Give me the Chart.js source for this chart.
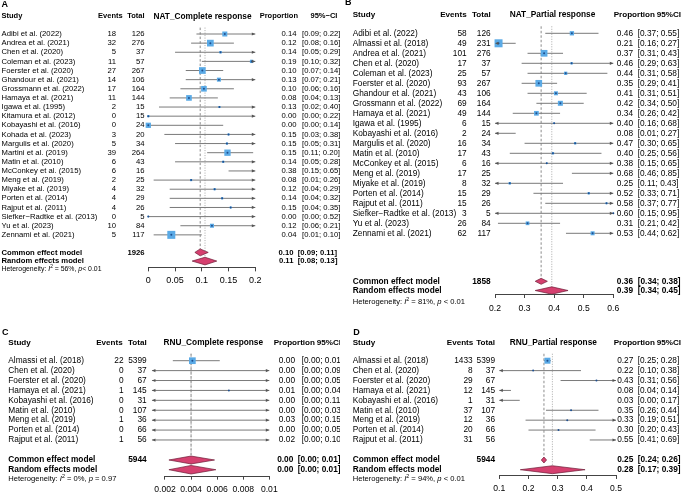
<!DOCTYPE html>
<html>
<head>
<meta charset="utf-8">
<script src="https://cdn.jsdelivr.net/npm/chart.js@4.4.1/dist/chart.umd.min.js"></script>
<style>
  html, body { margin: 0; padding: 0; background: #fff; }
  #wrap { position: relative; width: 685px; height: 494px; overflow: hidden; }
  .panel { position: absolute; }
</style>
</head>
<body>
<div id="wrap">
  <div class="panel" id="boxA"><canvas id="chartA"></canvas></div>
  <div class="panel" id="boxB"><canvas id="chartB"></canvas></div>
  <div class="panel" id="boxC"><canvas id="chartC"></canvas></div>
  <div class="panel" id="boxD"><canvas id="chartD"></canvas></div>
</div>
<script>
// ---- A: NAT complete response
const studiesA = ["Adibi et al. (2022)", "Andrea et al. (2021)", "Chen et al. (2020)", "Coleman et al. (2023)",
  "Foerster et al. (2020)", "Ghandour et al. (2021)", "Grossmann et al. (2022)", "Hamaya et al. (2021)",
  "Igawa et al. (1995)", "Kitamura et al. (2012)", "Kobayashi et al. (2016)", "Kohada et al. (2023)",
  "Margulis et al. (2020)", "Martini et al. (2019)", "Matin et al. (2010)", "McConkey et al. (2015)",
  "Meng et al. (2019)", "Miyake et al. (2019)", "Porten et al. (2014)", "Rajput et al. (2011)",
  "Siefker\u2212Radtke et al. (2013)", "Yu et al. (2023)", "Zennami et al. (2021)"];
const eventsA = [18, 32, 5, 11, 27, 14, 17, 11, 2, 0, 0, 3, 5, 39, 6, 6, 2, 4, 4, 4, 0, 10, 5];
const totalA = [126, 276, 37, 57, 267, 106, 164, 144, 15, 15, 24, 20, 34, 264, 43, 16, 25, 32, 29, 26, 5, 84, 117];
const estA = [0.143, 0.116, 0.135, 0.193, 0.101, 0.132, 0.104, 0.076, 0.133, 0, 0, 0.150, 0.147, 0.148, 0.140, 0.375, 0.080, 0.124, 0.138, 0.154, 0, 0.119, 0.043];
const loA = [0.09, 0.08, 0.05, 0.10, 0.07, 0.07, 0.06, 0.04, 0.02, 0, 0, 0.03, 0.05, 0.11, 0.05, 0.15, 0.01, 0.04, 0.04, 0.04, 0, 0.06, 0.01];
const hiA = [0.22, 0.16, 0.29, 0.32, 0.14, 0.21, 0.16, 0.13, 0.40, 0.22, 0.14, 0.38, 0.31, 0.196, 0.28, 0.65, 0.26, 0.29, 0.32, 0.35, 0.52, 0.21, 0.10];
const weightA = [6.2, 11.1, 1.5, 2.7, 11.1, 4.0, 7.9, 7.9, 1.0, 1.2, 6.9, 1.0, 1.2, 9.9, 1.2, 0.2, 1.2, 1.2, 1.2, 1.0, 0.5, 4.0, 15.8];
const commonA = [0.097, 0.087, 0.112];   // estimate, lower, upper
const randomA = [0.106, 0.082, 0.128];
const ticksA = [0, 0.05, 0.1, 0.15, 0.2];
const i2A = 56, hetPA = "< 0.01";

// ---- B: NAT partial response
const studiesB = ["Adibi et al. (2022)", "Almassi et al. (2018)", "Andrea et al. (2021)", "Chen et al. (2020)",
  "Coleman et al. (2023)", "Foerster et al. (2020)", "Ghandour et al. (2021)", "Grossmann et al. (2022)",
  "Hamaya et al. (2021)", "Igawa et al. (1995)", "Kobayashi et al. (2016)", "Margulis et al. (2020)",
  "Matin et al. (2010)", "McConkey et al. (2015)", "Meng et al. (2019)", "Miyake et al. (2019)",
  "Porten et al. (2014)", "Rajput et al. (2011)", "Siefker\u2212Radtke et al. (2013)", "Yu et al. (2023)",
  "Zennami et al. (2021)"];
const eventsB = [58, 49, 101, 17, 25, 93, 43, 69, 49, 6, 2, 16, 17, 6, 17, 8, 15, 15, 3, 26, 62];
const totalB = [126, 231, 276, 37, 57, 267, 106, 164, 144, 15, 24, 34, 43, 16, 25, 32, 29, 26, 5, 84, 117];
const estB = [0.460, 0.212, 0.366, 0.459, 0.439, 0.348, 0.406, 0.421, 0.340, 0.400, 0.083, 0.471, 0.396, 0.375, 0.680, 0.250, 0.517, 0.577, 0.600, 0.310, 0.530];
const loB = [0.37, 0.16, 0.31, 0.29, 0.31, 0.29, 0.31, 0.34, 0.26, 0.16, 0.01, 0.30, 0.25, 0.15, 0.46, 0.11, 0.33, 0.37, 0.15, 0.21, 0.44];
const hiB = [0.55, 0.27, 0.43, 0.63, 0.58, 0.41, 0.51, 0.50, 0.42, 0.68, 0.27, 0.65, 0.56, 0.65, 0.85, 0.43, 0.71, 0.77, 0.95, 0.42, 0.62];
const weightB = [5.8, 20.0, 14.0, 1.7, 3.4, 14.0, 5.0, 7.8, 6.9, 0.7, 1.5, 1.7, 1.7, 0.7, 1.0, 1.9, 1.7, 1.2, 0.3, 4.3, 5.0];
const commonB = [0.356, 0.336, 0.377];
const randomB = [0.392, 0.336, 0.447];
const ticksB = [0.2, 0.3, 0.4, 0.5, 0.6];
const i2B = 81, hetPB = " < 0.01";

// ---- C: RNU complete response
const studiesC = ["Almassi et al. (2018)", "Chen et al. (2020)", "Foerster et al. (2020)", "Hamaya et al. (2021)",
  "Kobayashi et al. (2016)", "Matin et al. (2010)", "Meng et al. (2019)", "Porten et al. (2014)", "Rajput et al. (2011)"];
const eventsC = [22, 0, 0, 1, 0, 0, 1, 0, 1];
const totalC = [5399, 37, 67, 145, 31, 107, 36, 66, 56];
const estC = [0.0041, 0, 0, 0.0069, 0, 0, 0.0278, 0, 0.0179];
const loC = [0.0026, 0, 0, 0.0002, 0, 0, 0.0007, 0, 0.0005];
const hiC = [0.0062, 0.094, 0.053, 0.038, 0.112, 0.034, 0.146, 0.054, 0.096];
const weightC = [96.0, 0.5, 0.5, 1.5, 0.3, 0.5, 0.3, 0.5, 0.4];
const commonC = [0.0040, 0.0023, 0.0058];
const randomC = [0.0040, 0.0023, 0.0059];
const ticksC = [0.002, 0.004, 0.006, 0.008, 0.01];
const i2C = 0, hetPC = " = 0.97";

// ---- D: RNU partial response
const studiesD = studiesC;
const eventsD = [1433, 8, 29, 12, 1, 37, 12, 20, 31];
const totalD = [5399, 37, 67, 145, 31, 107, 36, 66, 56];
const estD = [0.265, 0.216, 0.433, 0.083, 0.032, 0.346, 0.333, 0.303, 0.554];
const loD = [0.253, 0.098, 0.31, 0.04, 0.001, 0.26, 0.19, 0.20, 0.41];
const hiD = [0.277, 0.38, 0.56, 0.14, 0.17, 0.44, 0.51, 0.43, 0.69];
const weightD = [92.0, 0.9, 1.1, 1.0, 0.6, 1.5, 0.8, 1.1, 1.0];
const commonD = [0.253, 0.244, 0.262];
const randomD = [0.282, 0.172, 0.394];
const ticksD = [0.1, 0.2, 0.3, 0.4, 0.5];
const i2D = 94, hetPD = " < 0.01";

const FONT = '"Liberation Sans", Arial, Helvetica, sans-serif';

// layout of each panel (pixels inside its own canvas)
const panels = [
  { letter: "A", canvas: "chartA", box: "boxA", title: "NAT_Complete response", ciHead: "95%\u2212CI",
    studies: studiesA, events: eventsA, totals: totalA, est: estA, lo: loA, hi: hiA, weight: weightA,
    common: commonA, random: randomA, ticks: ticksA, xmin: 0, xmax: 0.2, i2: i2A, hetP: hetPA,
    L: { left: 0, top: 0, width: 340, height: 290, font: 7.7, headFont: 7.5, titleFont: 8.3, hetFont: 6.9,
      tickFont: 9, tickPad: 4, rowTop: 34, rowStep: 9.13, rowAxis: 25.56, rowCommon: 23.92, rowRandom: 24.87,
      rowHet: 25.77, rowHeader: -1.94, rowLetter: -3.26, padL: 148.3, padR: 84.7, xLetter: 1.5, xStudy: 1.5,
      xEventsHead: 122.7, xEvents: 116, xTotal: 144.5, xTitle: 202.5, xPropHead: 298, xCIHead: 310.5,
      xProp: 296.5, xCI: 302, xPropBold: 293.5, xCIBold: 297.7, sideMax: 8, hC: 0.38, hR: 0.42 } },
  { letter: "B", canvas: "chartB", box: "boxB", title: "NAT_Partial response", ciHead: "95%CI",
    studies: studiesB, events: eventsB, totals: totalB, est: estB, lo: loB, hi: hiB, weight: weightB,
    common: commonB, random: randomB, ticks: ticksB, xmin: 0.2, xmax: 0.6, i2: i2B, hetP: hetPB,
    L: { left: 340, top: 0, width: 345, height: 320, font: 8.3, headFont: 8.1, titleFont: 8.3, hetFont: 7.6,
      tickFont: 8.6, tickPad: 5, rowTop: 33.3, rowStep: 10.0, rowAxis: 26.07, rowCommon: 24.8, rowRandom: 25.72,
      rowHet: 26.9, rowHeader: -1.83, rowLetter: -3.1, padL: 155, padR: 71.7, xLetter: 5, xStudy: 12.7,
      xEventsHead: 126.7, xEvents: 126.7, xTotal: 150.7, xTitle: 212.5, xPropHead: 315, xCIHead: 316.7,
      xProp: 293, xCI: 297.7, xPropBold: 293, xCIBold: 297.7, sideMax: 8, hC: 0.3, hR: 0.37 } },
  { letter: "C", canvas: "chartC", box: "boxC", title: "RNU_Complete response", ciHead: "95%CI",
    studies: studiesC, events: eventsC, totals: totalC, est: estC, lo: loC, hi: hiC, weight: weightC,
    common: commonC, random: randomC, ticks: ticksC, xmin: 0.001, xmax: 0.01, i2: i2C, hetP: hetPC,
    L: { left: 0, top: 320, width: 340, height: 174, font: 8.3, headFont: 8.1, titleFont: 8.3, hetFont: 7.6,
      tickFont: 8.6, tickPad: 5, rowTop: 40.7, rowStep: 9.91, rowAxis: 11.6, rowCommon: 10.02, rowRandom: 11.0,
      rowHet: 11.97, rowHeader: -1.82, rowLetter: -2.83, padL: 151.96, padR: 70.7, xLetter: 2, xStudy: 8.3,
      xEventsHead: 122.7, xEvents: 123.5, xTotal: 146.7, xTitle: 213.3, xPropHead: 315, xCIHead: 316.7,
      xProp: 295, xCI: 301.7, xPropBold: 293.3, xCIBold: 297.7, sideMax: 6.7, hC: 0.4, hR: 0.43 } },
  { letter: "D", canvas: "chartD", box: "boxD", title: "RNU_Partial response", ciHead: "95%CI",
    studies: studiesD, events: eventsD, totals: totalD, est: estD, lo: loD, hi: hiD, weight: weightD,
    common: commonD, random: randomD, ticks: ticksD, xmin: 0.1, xmax: 0.5, i2: i2D, hetP: hetPD,
    L: { left: 340, top: 320, width: 345, height: 174, font: 8.3, headFont: 8.1, titleFont: 8.3, hetFont: 7.6,
      tickFont: 8.6, tickPad: 5, rowTop: 40.7, rowStep: 9.91, rowAxis: 11.53, rowCommon: 10.02, rowRandom: 11.0,
      rowHet: 11.94, rowHeader: -1.82, rowLetter: -2.83, padL: 159.3, padR: 69, xLetter: 13.3, xStudy: 12.7,
      xEventsHead: 133.3, xEvents: 132.7, xTotal: 155, xTitle: 213.3, xPropHead: 315, xCIHead: 316.7,
      xProp: 293.3, xCI: 297.7, xPropBold: 293.3, xCIBold: 297.7, sideMax: 6, hC: 0.3, hR: 0.4 } }
];

function txt(ctx, s, x, y, align, size, weight) {
  ctx.font = (weight || "normal") + " " + size + "px " + FONT;
  ctx.textAlign = align;
  ctx.textBaseline = "middle";
  ctx.fillStyle = "#000";
  ctx.fillText(s, x, y);
}

function drawHet(ctx, x, y, size, i2, pText) {
  const parts = [["Heterogeneity: ", "normal", size, 0], ["I", "italic", size, 0], ["2", "normal", size * 0.7, -size * 0.38],
    [" = " + i2 + "%, ", "normal", size, 0], ["p", "italic", size, 0], [pText, "normal", size, 0]];
  ctx.textAlign = "left";
  ctx.textBaseline = "middle";
  ctx.fillStyle = "#000";
  parts.forEach(([s, st, sz, dy]) => {
    ctx.font = st + " " + sz + "px " + FONT;
    ctx.fillText(s, x, y + dy);
    x += ctx.measureText(s).width;
  });
}

const ciText = (l, h) => "[" + l.toFixed(2) + "; " + h.toFixed(2) + "]";

function forestPlugin(p) {
  const L = p.L;
  return {
    id: "forest" + p.letter,
    afterDatasetsDraw(chart) {
      // arrowheads where an interval runs past the plot limits
      const ctx = chart.ctx, xs = chart.scales.x, ys = chart.scales.y;
      ctx.save();
      ctx.fillStyle = "#555";
      p.est.forEach((e, i) => {
        const y = ys.getPixelForValue(i);
        if (p.lo[i] < p.xmin) {
          const x = xs.getPixelForValue(p.xmin);
          ctx.beginPath(); ctx.moveTo(x, y); ctx.lineTo(x + 3.5, y - 1.6); ctx.lineTo(x + 3.5, y + 1.6); ctx.fill();
        }
        if (p.hi[i] > p.xmax) {
          const x = xs.getPixelForValue(p.xmax);
          ctx.beginPath(); ctx.moveTo(x, y); ctx.lineTo(x - 3.5, y - 1.6); ctx.lineTo(x - 3.5, y + 1.6); ctx.fill();
        }
      });
      ctx.restore();
    },
    afterDraw(chart) {
      const ctx = chart.ctx, xs = chart.scales.x, ys = chart.scales.y;
      const yy = r => ys.getPixelForValue(r);
      ctx.save();
      // axis line from first to last tick
      const ay = Math.round(chart.chartArea.bottom) + 0.5;
      ctx.strokeStyle = "#444"; ctx.lineWidth = 1;
      ctx.beginPath();
      ctx.moveTo(xs.getPixelForValue(p.ticks[0]), ay);
      ctx.lineTo(xs.getPixelForValue(p.ticks[p.ticks.length - 1]), ay);
      ctx.stroke();

      txt(ctx, p.letter, L.xLetter, yy(L.rowLetter), "left", 9, "bold");
      const hy = yy(L.rowHeader);
      txt(ctx, "Study", L.xStudy, hy, "left", L.headFont, "bold");
      txt(ctx, "Events", L.xEventsHead, hy, "right", L.headFont, "bold");
      txt(ctx, "Total", L.xTotal, hy, "right", L.headFont, "bold");
      txt(ctx, p.title, L.xTitle, hy, "center", L.titleFont, "bold");
      txt(ctx, "Proportion", L.xPropHead, hy, "right", L.headFont, "bold");
      txt(ctx, p.ciHead, L.xCIHead, hy, "left", L.headFont, "bold");

      p.studies.forEach((s, i) => {
        const y = yy(i);
        txt(ctx, s, L.xStudy, y, "left", L.font);
        txt(ctx, String(p.events[i]), L.xEvents, y, "right", L.font);
        txt(ctx, String(p.totals[i]), L.xTotal, y, "right", L.font);
        txt(ctx, p.est[i].toFixed(2), L.xProp, y, "right", L.font);
        txt(ctx, ciText(p.lo[i], p.hi[i]), L.xCI, y, "left", L.font);
      });

      const cy = yy(L.rowCommon), ry = yy(L.rowRandom);
      const sumTotal = p.totals.reduce((a, b) => a + b, 0);
      txt(ctx, "Common effect model", L.xStudy, cy, "left", L.font, "bold");
      txt(ctx, String(sumTotal), L.xTotal, cy, "right", L.font, "bold");
      txt(ctx, p.common[0].toFixed(2), L.xPropBold, cy, "right", L.font, "bold");
      txt(ctx, ciText(p.common[1], p.common[2]), L.xCIBold, cy, "left", L.font, "bold");
      txt(ctx, "Random effects model", L.xStudy, ry, "left", L.font, "bold");
      txt(ctx, p.random[0].toFixed(2), L.xPropBold, ry, "right", L.font, "bold");
      txt(ctx, ciText(p.random[1], p.random[2]), L.xCIBold, ry, "left", L.font, "bold");
      drawHet(ctx, L.xStudy, yy(L.rowHet), L.hetFont, p.i2, p.hetP);
      ctx.restore();
    }
  };
}

function buildPanel(p) {
  const L = p.L;
  const box = document.getElementById(p.box);
  Object.assign(box.style, { left: L.left + "px", top: L.top + "px", width: L.width + "px", height: L.height + "px" });

  const clamp = v => Math.min(p.xmax, Math.max(p.xmin, v));
  const inRange = v => v >= p.xmin && v <= p.xmax;
  const wMax = Math.max(...p.weight);

  // one line dataset for all intervals, broken by gap points
  const ciPts = [];
  p.est.forEach((e, i) => {
    ciPts.push({ x: clamp(p.lo[i]), y: i }, { x: clamp(p.hi[i]), y: i }, { x: p.xmin, y: null });
  });
  const estPts = p.est.map((e, i) => ({ x: e, y: inRange(e) ? i : null }));
  const radii = p.weight.map(w => L.sideMax * Math.sqrt(w / wMax) / Math.SQRT2);
  const diamond = (m, r, h) => [{ x: m[1], y: r }, { x: m[0], y: r - h }, { x: m[2], y: r }, { x: m[0], y: r + h }, { x: m[1], y: r }];
  const lineStyle = { showLine: true, pointRadius: 0, clip: false, tension: 0 };
  const axisPx = L.rowTop + L.rowAxis * L.rowStep;

  new Chart(document.getElementById(p.canvas), {
    type: "scatter",
    data: {
      datasets: [
        Object.assign({ data: [{ x: p.common[0], y: -0.7 }, { x: p.common[0], y: L.rowCommon - L.hC }],
          borderColor: "#7f7f7f", borderWidth: 0.9, borderDash: [2.5, 2], order: 6 }, lineStyle),
        Object.assign({ data: [{ x: p.random[0], y: -0.7 }, { x: p.random[0], y: L.rowRandom - L.hR }],
          borderColor: "#a0a0a0", borderWidth: 0.9, borderDash: [1, 1.5], order: 5 }, lineStyle),
        Object.assign({ data: ciPts, borderColor: "#7a7a7a", borderWidth: 1, spanGaps: false, order: 4 }, lineStyle),
        { data: estPts, pointStyle: "rect", pointRadius: radii, backgroundColor: "#5aaae6", borderWidth: 0, clip: false, order: 3 },
        { data: estPts, pointStyle: "circle", pointRadius: 1, backgroundColor: "#1f4f8f", borderWidth: 0, clip: false, order: 2 },
        Object.assign({ data: diamond(p.common, L.rowCommon, L.hC), fill: "shape", backgroundColor: "#d5406f",
          borderColor: "#6d1b36", borderWidth: 0.7, order: 1 }, lineStyle),
        Object.assign({ data: diamond(p.random, L.rowRandom, L.hR), fill: "shape", backgroundColor: "#d5406f",
          borderColor: "#6d1b36", borderWidth: 0.7, order: 0 }, lineStyle)
      ]
    },
    options: {
      responsive: true,
      maintainAspectRatio: false,
      animation: false,
      events: [],
      layout: { padding: { left: L.padL, right: L.padR, top: L.rowTop, bottom: 0 } },
      plugins: { legend: { display: false }, tooltip: { enabled: false } },
      scales: {
        x: {
          type: "linear", position: "bottom", min: p.xmin, max: p.xmax,
          afterBuildTicks: s => { s.ticks = p.ticks.map(v => ({ value: v })); },
          afterFit: s => { s.height = L.height - axisPx; },
          ticks: { autoSkip: false, maxRotation: 0, padding: L.tickPad, color: "#000",
            font: { family: FONT, size: L.tickFont }, callback: v => String(v) },
          grid: { display: true, drawOnChartArea: false, drawTicks: true, tickLength: 4, color: "#444", lineWidth: 1 },
          border: { display: false }
        },
        y: { type: "linear", min: 0, max: L.rowAxis, reverse: true, display: false }
      }
    },
    plugins: [forestPlugin(p)]
  });
}

panels.forEach(buildPanel);
</script>
</body>
</html>
